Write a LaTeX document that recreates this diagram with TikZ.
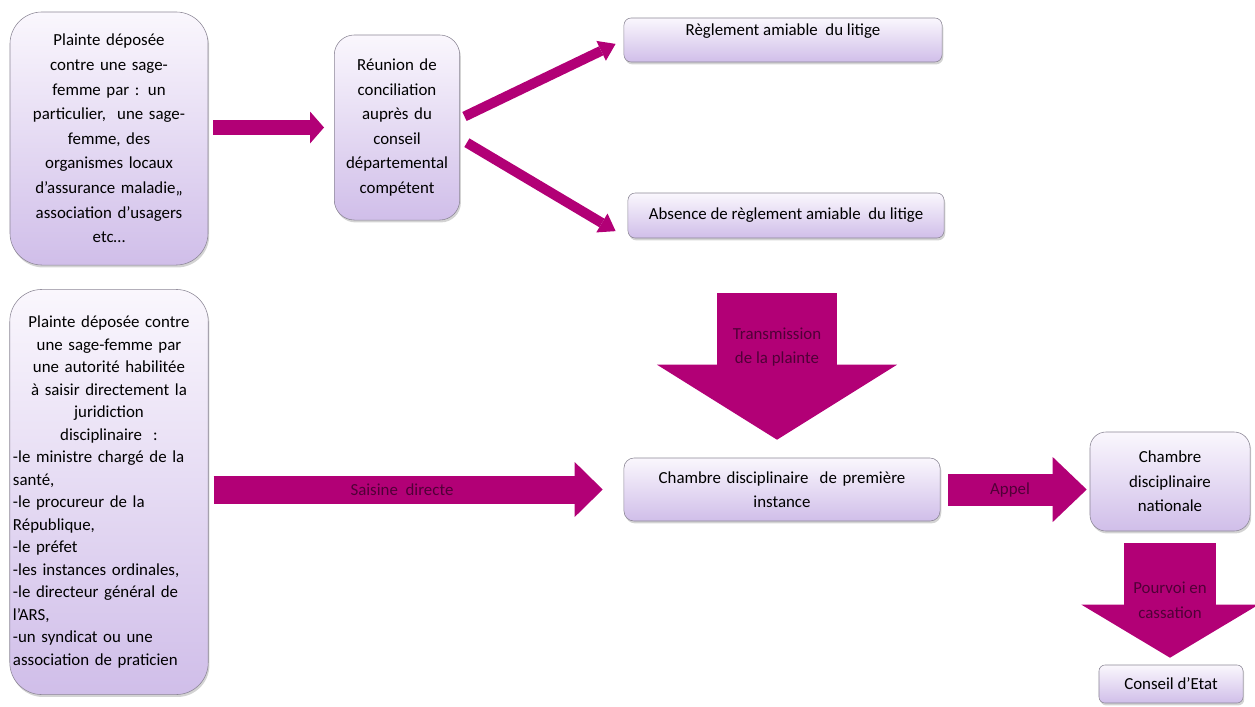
\documentclass[tikz,border=0pt]{standalone}
\usepackage{fontspec}
\setmainfont{Carlito}
\usetikzlibrary{arrows.meta,positioning,shadows}
\definecolor{fuchsia}{RGB}{178,0,118}
\definecolor{lavhaut}{RGB}{250,247,253}
\definecolor{lavbas}{RGB}{208,190,233}
\definecolor{bord}{RGB}{140,135,150}
\definecolor{textefleche}{RGB}{80,0,55}
\tikzset{
    %Define style for boxes
    boite/.style={
           draw=bord,
           rounded corners=#1,
           top color=lavhaut,
           bottom color=lavbas,
           drop shadow={shadow xshift=0.03cm, shadow yshift=-0.06cm, opacity=0.35},
           align=center,
           font=\fontsize{12}{17.5}\selectfont,},
    %Define style for block arrows
    fleche/.style n args={3}{
           draw=fuchsia,
           line width=#1,
           -{Triangle[width=#2, length=#3, line width=0pt]},},
    %Define style for arrow labels
    etiq/.style={
           text=textefleche,
           align=center,
           font=\fontsize{12}{17.5}\selectfont,}
}

\begin{document}
\begin{tikzpicture}[x=0.025cm, y=-0.025cm]
 \useasboundingbox (0,0) rectangle (1255,706);
 %boxes
 \node[boite=0.8cm, minimum width=4.95cm, minimum height=6.325cm, text width=4.7cm] (plainte) at (109,138.5)
   {Plainte déposée\\ contre une sage-\\ femme par : un\\ particulier,~ une sage-\\ femme, des\\ organismes locaux\\ d’assurance maladie„\\ association d’usagers\\ etc…};
 \node[boite=0.5cm, minimum width=3cm, minimum height=4.625cm, text width=2.9cm] (reunion) at (397,127.5)
   {Réunion de\\ conciliation\\ auprès du\\ conseil\\ départemental\\ compétent};
 \node[boite=0.18cm, minimum width=7.95cm, minimum height=1.1cm, inner ysep=0.12cm, text depth=0.5cm] (reglement) at (783,40)
   {Règlement amiable~ du litige};
 \node[boite=0.18cm, minimum width=7.9cm, minimum height=1.125cm] (absence) at (786,215.5)
   {Absence de règlement amiable~ du litige};
 \node[boite=0.8cm, minimum width=4.95cm, minimum height=10.125cm, text width=4.8cm, inner xsep=0.08cm, align=left,
       font=\fontsize{12}{16}\selectfont] (directe) at (109,492)
   {{\centering Plainte déposée contre\\ une sage-femme par\\ une autorité habilitée\\ à saisir directement la\\ juridiction\\ disciplinaire~ :\par}
    -le ministre chargé de la\\ santé,\\ -le procureur de la\\ République,\\ -le préfet\\ -les instances ordinales,\\ -le directeur général de\\ l’ARS,\\ -un syndicat ou une\\ association de praticien};
 \node[boite=0.25cm, minimum width=7.9cm, minimum height=1.575cm, text width=7.5cm] (chambre) at (782,489.5)
   {Chambre disciplinaire~ de première\\ instance};
 \node[boite=0.4cm, minimum width=4cm, minimum height=2.475cm] (nationale) at (1170,481.5)
   {Chambre\\ disciplinaire\\ nationale};
 \node[boite=0.15cm, minimum width=3.6cm, minimum height=0.95cm] (conseil) at (1171,684)
   {Conseil d’Etat};
 \coordinate (transmission) at (777,293);

 %arrows
 \draw[fleche={0.375cm}{0.8cm}{0.35cm}, shorten <=0.125cm, shorten >=0.25cm] (plainte.east |- reunion.west) -- (reunion.west);
 \draw[fleche={0.25cm}{0.55cm}{0.4cm}, shorten <=0.125cm, shorten >=0.225cm] (reunion.8) -- (reglement.west);
 \draw[fleche={0.25cm}{0.55cm}{0.4cm}, shorten <=0.2cm, shorten >=0.35cm] (reunion.-10) -- (absence.south west);
 \draw[fleche={3cm}{6cm}{1.875cm}, shorten >=0.45cm] (transmission) -- (transmission |- chambre.north)
   node[etiq, pos=0.327] {Transmission\\ de la plainte};
 \draw[fleche={0.7cm}{1.375cm}{0.7cm}, shorten <=0.125cm, shorten >=0.525cm] (directe.east |- chambre.west) -- (chambre.west)
   node[etiq, pos=0.466] {Saisine~ directe};
 \draw[fleche={0.8cm}{1.625cm}{0.85cm}, shorten <=0.2cm, shorten >=0.075cm] (chambre.east) -- (chambre.east -| nationale.west)
   node[etiq, pos=0.467] {Appel};
 \draw[fleche={2.3cm}{4.425cm}{1.325cm}, shorten <=0.3cm, shorten >=0.175cm] (nationale.south) -- (nationale.south |- conseil.north)
   node[etiq, pos=0.515] {Pourvoi en\\ cassation};

\end{tikzpicture}
\end{document}
